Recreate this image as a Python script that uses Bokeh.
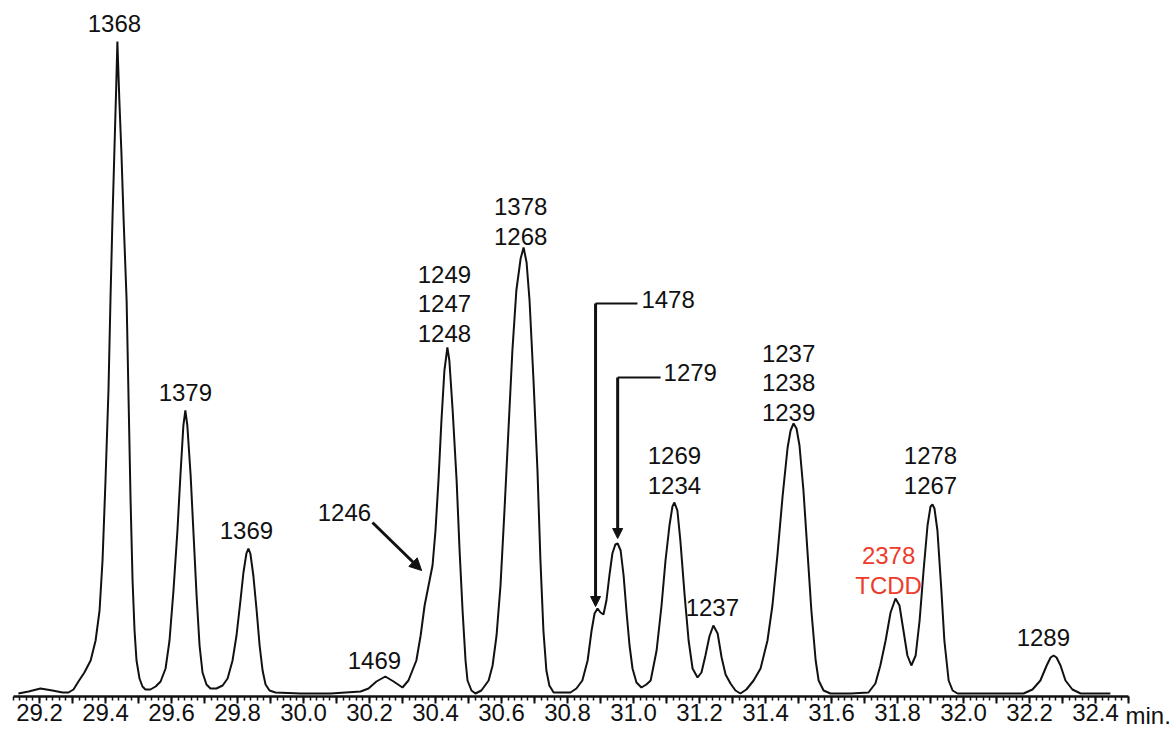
from bokeh.plotting import figure
from bokeh.models import Range1d, FixedTicker, Arrow, NormalHead
from bokeh.core.properties import value
from bokeh.embed import file_html
from bokeh.resources import INLINE

# ---- chromatogram trace (retention time in min, detector response) ----
time_min = [
    29.136, 29.167, 29.203, 29.239, 29.270, 29.288, 29.303, 29.318, 29.336, 29.355,
    29.370, 29.382, 29.391, 29.400, 29.409, 29.415, 29.421, 29.427, 29.433, 29.436,
    29.442, 29.448, 29.455, 29.464, 29.470, 29.476, 29.482, 29.488, 29.494, 29.503,
    29.512, 29.521, 29.536, 29.552, 29.567, 29.582, 29.594, 29.606, 29.618, 29.627,
    29.636, 29.642, 29.648, 29.658, 29.667, 29.676, 29.685, 29.694, 29.706, 29.718,
    29.736, 29.755, 29.770, 29.785, 29.797, 29.809, 29.818, 29.827, 29.833, 29.839,
    29.848, 29.858, 29.867, 29.876, 29.885, 29.897, 29.915, 29.991, 30.082, 30.173,
    30.197, 30.221, 30.248, 30.273, 30.300, 30.318, 30.330, 30.342, 30.355, 30.367,
    30.379, 30.391, 30.400, 30.409, 30.418, 30.427, 30.436, 30.442, 30.452, 30.464,
    30.473, 30.482, 30.491, 30.497, 30.509, 30.521, 30.539, 30.561, 30.573, 30.585,
    30.597, 30.609, 30.621, 30.633, 30.645, 30.658, 30.667, 30.676, 30.685, 30.697,
    30.709, 30.718, 30.727, 30.736, 30.745, 30.758, 30.785, 30.809, 30.827, 30.845,
    30.861, 30.873, 30.882, 30.891, 30.900, 30.909, 30.918, 30.927, 30.936, 30.945,
    30.952, 30.961, 30.970, 30.979, 30.988, 30.997, 31.009, 31.024, 31.039, 31.052,
    31.070, 31.085, 31.097, 31.109, 31.118, 31.124, 31.133, 31.142, 31.155, 31.167,
    31.179, 31.194, 31.206, 31.218, 31.230, 31.242, 31.255, 31.267, 31.279, 31.294,
    31.309, 31.324, 31.342, 31.364, 31.385, 31.406, 31.421, 31.436, 31.452, 31.467,
    31.476, 31.485, 31.494, 31.503, 31.515, 31.527, 31.539, 31.552, 31.561, 31.576,
    31.597, 31.658, 31.712, 31.733, 31.748, 31.764, 31.779, 31.794, 31.806, 31.818,
    31.830, 31.842, 31.855, 31.867, 31.879, 31.891, 31.900, 31.906, 31.912, 31.921,
    31.933, 31.942, 31.955, 31.967, 31.982, 32.082, 32.182, 32.209, 32.233, 32.252,
    32.264, 32.273, 32.282, 32.294, 32.309, 32.330, 32.355, 32.445,
]
response = [
    0, 2, 5, 3, 1, 1, 4, 12, 21, 33,
    53, 83, 133, 213, 303, 393, 473, 543, 613, 652,
    593, 543, 473, 393, 293, 193, 113, 63, 33, 15,
    7, 4, 4, 7, 12, 25, 53, 103, 163, 218,
    268, 283, 268, 218, 158, 98, 48, 21, 9, 5,
    5, 8, 15, 33, 58, 93, 121, 140, 145, 140,
    118, 83, 48, 23, 9, 3, 1, 0, 0, 2,
    5, 12, 17, 12, 6, 13, 23, 33, 58, 88,
    108, 128, 163, 213, 273, 323, 346, 333, 283, 213,
    143, 83, 33, 13, 3, 0, 3, 13, 28, 58,
    108, 183, 263, 343, 403, 435, 446, 431, 393, 313,
    223, 133, 63, 23, 8, 1, 1, 1, 5, 13,
    33, 63, 80, 85, 81, 79, 93, 118, 140, 149,
    150, 143, 118, 81, 48, 25, 11, 6, 9, 13,
    43, 88, 133, 168, 187, 191, 183, 153, 98, 53,
    25, 16, 21, 38, 57, 68, 60, 36, 19, 10,
    3, 0, 4, 13, 25, 53, 88, 138, 198, 246,
    263, 270, 265, 248, 203, 143, 83, 33, 13, 3,
    0, 0, 1, 10, 28, 53, 81, 95, 88, 63,
    38, 28, 38, 73, 123, 168, 187, 189, 185, 163,
    103, 53, 13, 3, 0, 0, 0, 4, 13, 28,
    36, 38, 36, 28, 13, 4, 0, 0,
]

# ---- peak annotations (centred above peaks) ----
label_text = ["1368", "1379", "1369", "1469", "1249\n1247\n1248", "1378\n1268",
              "1269\n1234", "1237", "1237\n1238\n1239", "2378\nTCDD", "1278\n1267", "1289"]
label_t = [29.427, 29.642, 29.827, 30.215, 30.427, 30.658,
           31.124, 31.239, 31.470, 31.773, 31.900, 32.242]
label_a = [670, 301, 163, 33, 390, 472,
           223, 86, 311, 123, 223, 56]
label_color = ["#111111"] * 9 + ["#ee3b2b"] + ["#111111"] * 2

# ---- call-out labels with elbow arrows ----
callout_text = ["1478", "1279"]
callout_label_t = [31.024, 31.091]
callout_label_a = [394, 321]
callout_peak_t = [30.885, 30.952]
callout_peak_a = [87, 155]
callout_line_a = [390, 316]
callout_line_end_t = [31.012, 31.082]

# ---- 1246 shoulder annotation ----
shoulder_text = "1246"
shoulder_label = (30.124, 181)
shoulder_arrow = (30.209, 171, 30.358, 123)

# ---- x axis ticks ----
major_ticks = [round(29.2 + 0.1 * i, 1) for i in range(34)]
tick_labels = [f"{v:.1f}" if i % 2 == 0 else "" for i, v in enumerate(major_ticks)]
minor_ticks = [round(29.12 + 0.02 * i, 2) for i in range(170)]
unit_text = "min."
unit_t = 32.491
axis_at = -3          # response level where the time axis is drawn
unit_a = -22          # response level of the unit text (below the axis)

FONT = "Liberation Sans"
INK = "#111111"

p = figure(width=1173, height=729,
           x_range=Range1d(29.08182, 32.63636), y_range=Range1d(-36, 693),
           output_backend="svg", toolbar_location=None, y_axis_location=None,
           min_border_left=0, min_border_right=0, min_border_top=0, min_border_bottom=0)
p.outline_line_color = None
p.grid.visible = False

p.line(time_min, response, line_width=2, color=INK)

# multi-line labels, split into lines
LINE_STEP = 29.5
xs, ys, ts, cs = [], [], [], []
for txt, t, a, c in zip(label_text, label_t, label_a, label_color):
    lines = txt.split("\n")
    n = len(lines)
    for i, ln in enumerate(lines):
        xs.append(t)
        ys.append(a - (i - (n - 1) / 2) * LINE_STEP)
        ts.append(ln)
        cs.append(c)
p.text(x=xs, y=ys, text=ts, text_color=cs, text_font=value(FONT),
       text_font_size="24px", text_align="center", text_baseline="middle")

# call-outs
p.text(x=callout_label_t, y=callout_label_a, text=callout_text, text_color=INK,
       text_font=value(FONT), text_font_size="24px", text_align="left", text_baseline="middle")
for pt, pa, la, le in zip(callout_peak_t, callout_peak_a, callout_line_a, callout_line_end_t):
    p.segment(x0=[pt], y0=[la], x1=[le], y1=[la], line_width=2, color=INK)
    p.add_layout(Arrow(end=NormalHead(size=10, fill_color=INK, line_color=INK, line_width=1),
                       x_start=pt, y_start=la, x_end=pt, y_end=pa,
                       line_width=3, line_color=INK))

# shoulder
p.text(x=[shoulder_label[0]], y=[shoulder_label[1]], text=[shoulder_text], text_color=INK,
       text_font=value(FONT), text_font_size="24px", text_align="center", text_baseline="middle")
p.add_layout(Arrow(end=NormalHead(size=12, fill_color=INK, line_color=INK, line_width=1),
                   x_start=shoulder_arrow[0], y_start=shoulder_arrow[1],
                   x_end=shoulder_arrow[2], y_end=shoulder_arrow[3],
                   line_width=3, line_color=INK))

# unit text at the right end of the time axis
p.text(x=[unit_t], y=[unit_a], text=[unit_text], text_color=INK, text_font=value(FONT),
       text_font_size="24px", text_align="left", text_baseline="middle")

ax = p.xaxis[0]
ax.fixed_location = axis_at
ax.ticker = FixedTicker(ticks=major_ticks, minor_ticks=minor_ticks)
ax.major_label_overrides = {v: l for v, l in zip(major_ticks, tick_labels)}
ax.bounds = (29.12, 32.5)
ax.axis_line_width = 2.5
ax.axis_line_color = INK
ax.major_tick_in = 0
ax.major_tick_out = 7
ax.minor_tick_in = 0
ax.minor_tick_out = 4
ax.major_tick_line_width = 2
ax.minor_tick_line_width = 1.5
ax.major_tick_line_color = INK
ax.minor_tick_line_color = INK
ax.major_label_text_font = FONT
ax.major_label_text_font_size = "24px"
ax.major_label_text_color = INK
ax.major_label_standoff = 0

open("out.html", "w").write(file_html(p, INLINE))
